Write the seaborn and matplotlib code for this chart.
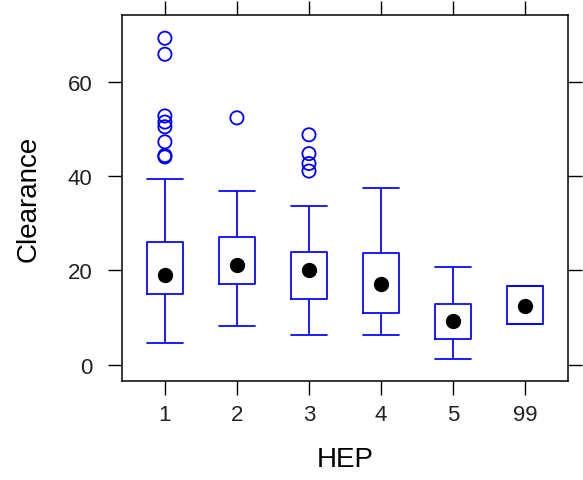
import numpy as np
import pandas as pd
import matplotlib
matplotlib.use("Agg")
import matplotlib.pyplot as plt
import seaborn as sns

# Clearance by HEP group: five-number summaries, extreme values and medians
HEP_LEVELS = ["1", "2", "3", "4", "5", "99"]
WHISKER_LO = [4.5, 8.3, 6.2, 6.4, 1.3, 8.7]
Q1 = [14.9, 17.2, 14.0, 10.9, 5.4, 8.7]
MEDIAN = [19.0, 21.1, 20.0, 17.2, 9.3, 12.4]
Q3 = [26.0, 27.0, 23.9, 23.8, 12.8, 16.6]
WHISKER_HI = [39.5, 36.9, 33.7, 37.5, 20.7, 16.6]

OUTLIER_HEP = ["1"] * 8 + ["2"] + ["3"] * 4
OUTLIER_VAL = [69.3, 65.9, 52.8, 51.5, 50.5, 47.3, 44.4, 44.1,
               52.4,
               48.8, 44.8, 42.7, 41.1]

Y_TICKS = [0, 20, 40, 60]

BLUE = "#0000FF"

sns.set_theme(style="ticks")
plt.rcParams["font.family"] = ["Liberation Sans", "DejaVu Sans"]

# five values per group give exact quartiles; whiskers run to min / max
five = pd.DataFrame({
    "HEP": np.repeat(HEP_LEVELS, 5),
    "Clearance": np.column_stack([WHISKER_LO, Q1, MEDIAN, Q3, WHISKER_HI]).ravel(),
})
outliers = pd.DataFrame({"HEP": OUTLIER_HEP, "Clearance": OUTLIER_VAL})
medians = pd.DataFrame({"HEP": HEP_LEVELS, "Clearance": MEDIAN})

fig, ax = plt.subplots(figsize=(5.83, 4.81), dpi=100)
fig.subplots_adjust(left=0.2087, right=0.9748, bottom=0.2065, top=0.9674)

sns.boxplot(data=five, x="HEP", y="Clearance", order=HEP_LEVELS,
            whis=np.inf, width=0.5, fill=False, color=BLUE, linewidth=1.25,
            showfliers=False, medianprops={"visible": False},
            capwidths=0.5, ax=ax)

sns.stripplot(data=outliers, x="HEP", y="Clearance", order=HEP_LEVELS,
              jitter=False, size=9.5, marker="o", facecolor="none",
              edgecolor=BLUE, linewidth=1.3, color=BLUE, ax=ax)

sns.stripplot(data=medians, x="HEP", y="Clearance", order=HEP_LEVELS,
              jitter=False, size=11, color="black", linewidth=0, ax=ax)

ax.set_xlim(-0.6, 5.6)
ax.set_ylim(-3.4, 74.3)
ax.set_yticks(Y_TICKS)
ax.set_xlabel("HEP", fontsize=20, labelpad=15, color="black")
ax.set_ylabel("Clearance", fontsize=20, labelpad=19, color="black")

ax.tick_params(axis="both", direction="out", length=10, width=1.0,
               color="black", labelsize=16, labelcolor="#222222",
               top=True, right=True, labeltop=False, labelright=False)
ax.tick_params(axis="x", pad=7)
ax.tick_params(axis="y", pad=11)
for side in ["left", "right", "top", "bottom"]:
    ax.spines[side].set_visible(True)
    ax.spines[side].set_linewidth(1.1)
    ax.spines[side].set_color("black")

fig.savefig("out.png", dpi=100, facecolor="white")
